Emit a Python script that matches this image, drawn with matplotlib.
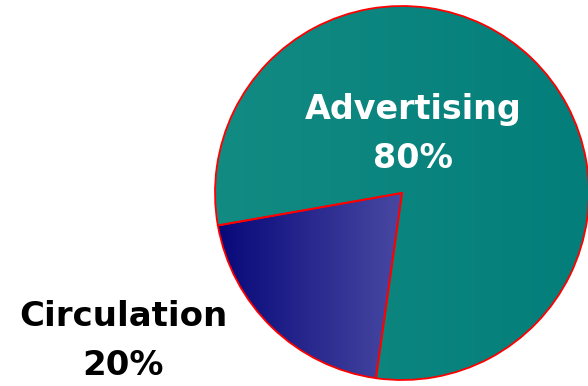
import numpy as np
import matplotlib.pyplot as plt
from matplotlib.colors import LinearSegmentedColormap

labels = ["Advertising", "Circulation"]
shares = [80, 20]

W, H = 588, 386
fig = plt.figure(figsize=(W / 100, H / 100), dpi=100)
ax = fig.add_axes([0, 0, 1, 1])

cx, cy, r = 402, H - 193, 187
wedges, _ = ax.pie(shares, startangle=-98, center=(cx, cy), radius=r,
                   colors=["none", "none"],
                   wedgeprops=dict(edgecolor="#ff0000", linewidth=1.3))

# gradient fills clipped to each wedge
grad = np.linspace(0, 1, 256).reshape(1, -1)
teal = LinearSegmentedColormap.from_list("teal", ["#128b83", "#047e7a"])
navy = LinearSegmentedColormap.from_list("navy", ["#08087a", "#4848a2"])
ext = [cx - r, cx + r, cy - r, cy + r]
im1 = ax.imshow(grad, cmap=teal, extent=ext, aspect="auto", zorder=0)
im1.set_clip_path(wedges[0])
im2 = ax.imshow(grad, cmap=navy,
                extent=[cx - r * 0.985, cx - 2, cy - r, cy + r],
                aspect="auto", zorder=0)
im2.set_clip_path(wedges[1])
for w in wedges:
    w.set_zorder(2)

ax.text(413, H - 134, f"{labels[0]}\n{shares[0]}%", color="white",
        fontsize=24, fontweight="bold", ha="center", va="center",
        linespacing=1.62, zorder=3)
ax.text(123, H - 341, f"{labels[1]}\n{shares[1]}%", color="black",
        fontsize=24.5, fontweight="bold", ha="center", va="center",
        linespacing=1.58, zorder=3)

ax.set_xlim(0, W)
ax.set_ylim(0, H)
ax.set_aspect("auto")
ax.axis("off")
fig.savefig("out.png", dpi=100)
